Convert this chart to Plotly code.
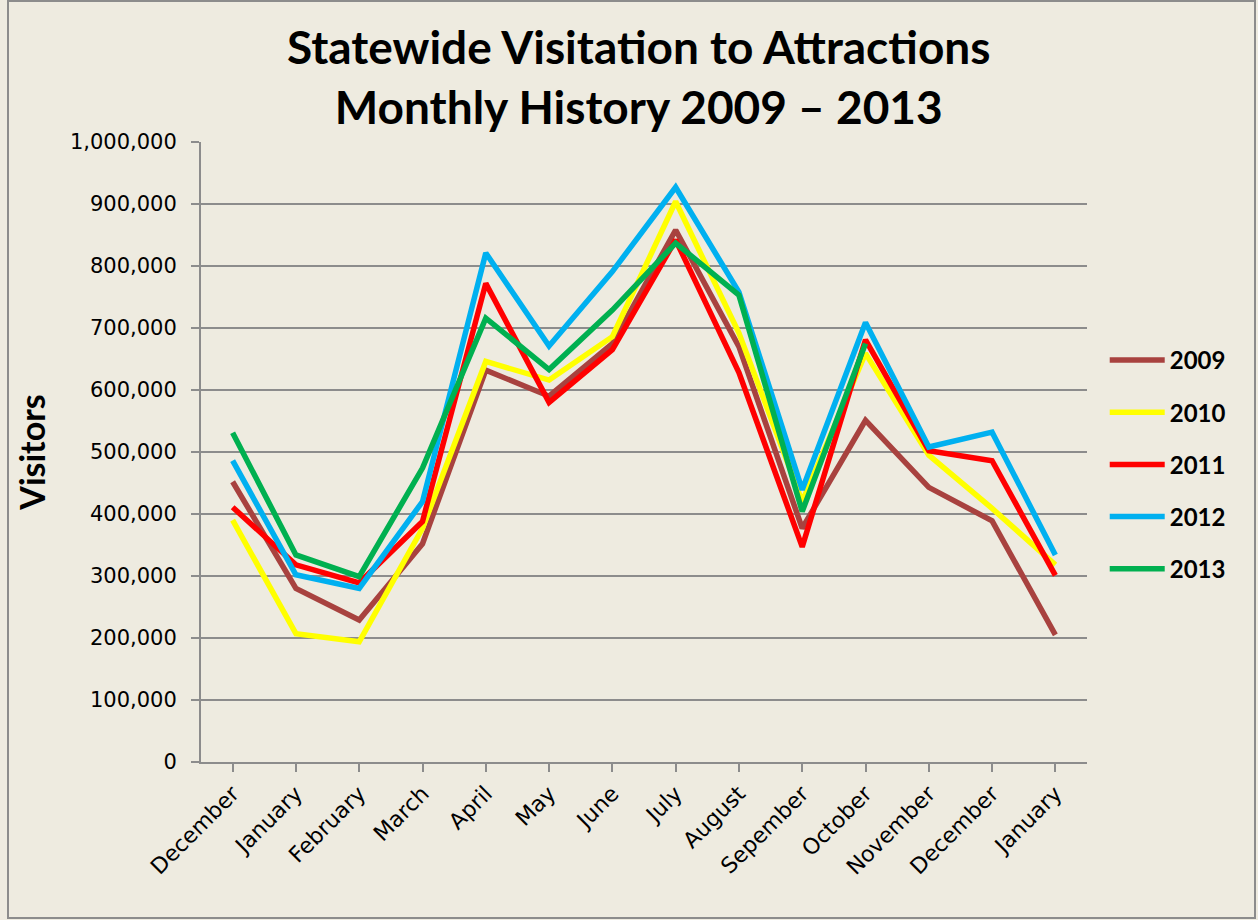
import plotly.graph_objects as go

# Months on the x axis (December of the previous year through January of the next)
months = ['December', 'January', 'February', 'March', 'April', 'May', 'June',
          'July', 'August', 'Sepember', 'October', 'November', 'December', 'January']

# Visitors per month
v2009 = [452000, 280000, 229000, 352000, 632000, 590000, 675000,
         858000, 670000, 377000, 551000, 443000, 389000, 205000]
v2010 = [390000, 207000, 194000, 377000, 646000, 616000, 686000,
         904000, 692000, 420000, 659000, 495000, 409000, 318000]
v2011 = [411000, 318000, 289000, 388000, 772000, 580000, 665000,
         842000, 628000, 347000, 681000, 502000, 486000, 301000]
v2012 = [486000, 302000, 280000, 420000, 821000, 671000, 791000,
         927000, 758000, 439000, 709000, 508000, 532000, 334000]
v2013 = [531000, 334000, 299000, 474000, 716000, 633000, 729000,
         837000, 753000, 404000, 675000]

years = ['2009', '2010', '2011', '2012', '2013']
series = [v2009, v2010, v2011, v2012, v2013]
colors = ['#A8423F', '#FFFF00', '#FF0000', '#00B0F0', '#00B050']

bg = '#EEEBE0'
grid = '#8C8C8C'

fig = go.Figure()
for year, vals, col in zip(years, series, colors):
    fig.add_trace(go.Scatter(
        x=list(range(len(vals))), y=vals, name=year, mode='lines',
        line={'color': col, 'width': 5.5}, legendgroup=year))

fig.update_layout(
    width=1258, height=920,
    paper_bgcolor=bg, plot_bgcolor=bg,
    margin={'l': 201, 'r': 171, 't': 142, 'b': 158},
    font={'family': 'DejaVu Sans', 'size': 20, 'color': 'black'},
    legend={'x': 1.02, 'xanchor': 'left', 'y': 0.48, 'yanchor': 'middle',
            'font': {'family': 'Lato', 'size': 24, 'weight': 'bold'},
            'itemwidth': 55, 'tracegroupgap': 18, 'bgcolor': 'rgba(0,0,0,0)'},
    showlegend=True,
    shapes=[{'type': 'rect', 'xref': 'paper', 'yref': 'paper',
             'x0': (8 - 201) / 886, 'x1': (1255 - 201) / 886,
             'y0': (762 - 918) / 620, 'y1': (762 - 1) / 620,
             'line': {'color': '#8C8C8C', 'width': 2}, 'layer': 'below'}],
    annotations=[{'text': 'Statewide Visitation to Attractions<br>Monthly History 2009 \u2013 2013',
                  'xref': 'paper', 'yref': 'paper', 'x': (638 - 201) / 886, 'y': (762 - 76) / 620,
                  'xanchor': 'center', 'yanchor': 'middle', 'showarrow': False,
                  'font': {'family': 'Lato', 'size': 46, 'color': 'black', 'weight': 'bold'}}],
)

fig.update_xaxes(
    range=[-0.5, len(months) - 0.5],
    tickvals=list(range(len(months))), ticktext=months,
    tickangle=-45, showgrid=False, zeroline=False,
    showline=True, linecolor=grid, linewidth=2,
    ticks='outside', ticklen=8, tickcolor=grid, tickwidth=2,
    tickson='boundaries', tickfont={'size': 22},
)

fig.update_yaxes(
    range=[0, 1000000], dtick=100000, tickformat=',d',
    showgrid=True, gridcolor=grid, gridwidth=2, zeroline=False,
    showline=True, linecolor=grid, linewidth=2,
    ticks='outside', ticklen=8, tickcolor=grid, tickwidth=2,
    tickfont={'size': 21}, ticklabelstandoff=10,
    title={'text': 'Visitors', 'standoff': 14,
           'font': {'family': 'Lato', 'size': 34, 'weight': 'bold'}},
)

fig.write_html('out.html', config={'displayModeBar': False},
               post_script="document.body.style.margin='0';")
